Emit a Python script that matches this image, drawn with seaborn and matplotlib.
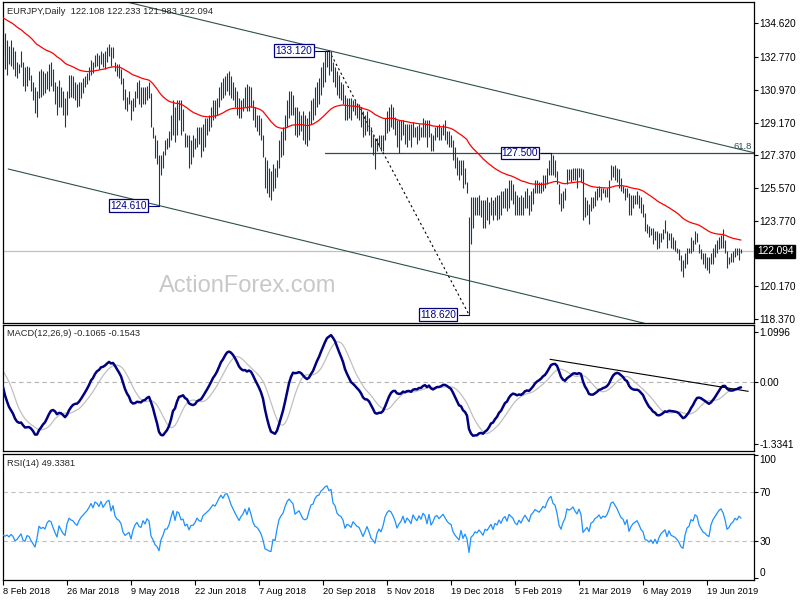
import numpy as np
import pandas as pd
import matplotlib
matplotlib.use('Agg')
import matplotlib.pyplot as plt
import matplotlib.transforms as mtransforms
import seaborn as sns

sns.set_style('white')
plt.rcParams['font.family'] = ['Liberation Sans', 'DejaVu Sans']

# ---- values ----
# closes before the first visible bar (Sep 2017 - 7 Feb 2018), only used so the
# EMA / MACD / RSI are warmed up at the left edge
warmup_close = [
    131.9, 132.3, 132.6, 133.1, 133.4, 133.8, 134.0, 133.6, 133.2, 132.9,
    132.6, 132.7, 133.0, 132.6, 132.4, 132.2, 132.1, 131.9, 132.3, 132.7,
    132.9, 132.8, 132.6, 132.4, 132.1, 132.5, 133.0, 133.5, 133.7, 133.9,
    134.2, 134.4, 132.3, 132.5, 132.7, 132.9, 132.6, 132.4, 132.2, 131.8,
    132.1, 132.3, 132.4, 131.9, 131.4, 131.6, 132.0, 132.3, 132.1, 132.5,
    132.5, 132.3, 132.7, 133.0, 132.6, 133.2, 133.8, 133.6, 133.9, 133.8,
    133.5, 133.1, 132.9, 133.3, 133.5, 133.7, 133.2, 133.8, 134.0, 134.3,
    134.5, 134.6, 134.8, 134.5, 134.7, 134.9, 135.2, 135.5, 135.6, 135.4,
    135.9, 136.2, 136.0, 135.5, 135.1, 134.8, 136.0, 136.5, 136.7, 136.2,
    135.8, 136.1, 136.3, 136.0, 135.7, 136.2, 136.4, 136.0, 135.6, 135.2,
    135.8, 136.6, 137.2, 136.1, 135.1, 134.5,
]

bar_high = [
    134.8, 134.1, 133.7, 133.4, 133.7, 133.3, 133.1, 132.5, 132.4, 133.1,
    132.5, 132.2, 132.3, 132.2, 131.8, 131.4, 131.1, 130.9, 132.0, 132.1,
    132.0, 131.9, 132.0, 132.4, 132.5, 132.1, 131.4, 131.2, 131.5, 131.1,
    130.9, 130.5, 130.9, 131.8, 131.8, 131.7, 131.4, 131.3, 131.4, 131.4,
    131.6, 131.7, 131.9, 132.2, 132.6, 132.5, 132.9, 133.0, 132.9, 133.1,
    133.0, 133.1, 133.3, 133.5, 133.3, 133.3, 132.5, 132.4, 132.4, 132.1,
    131.6, 131.0, 130.6, 130.9, 130.4, 130.5, 130.9, 131.4, 131.5, 131.1,
    131.1, 131.1, 131.2, 131.4, 130.8, 128.9, 128.5, 128.2, 127.4, 127.4,
    127.6, 128.2, 128.3, 128.7, 129.6, 130.4, 130.0, 130.4, 130.4, 130.4,
    129.9, 128.6, 128.5, 128.5, 128.2, 128.5, 128.3, 128.9, 128.9, 128.9,
    129.1, 129.4, 129.4, 129.6, 130.0, 130.4, 130.4, 130.5, 131.1, 131.4,
    131.6, 131.7, 131.9, 132.0, 131.7, 131.4, 131.1, 130.9, 130.5, 130.4,
    130.5, 131.1, 131.3, 131.2, 131.1, 130.4, 130.0, 129.6, 129.6, 129.4,
    128.5, 127.3, 127.1, 126.7, 126.5, 126.9, 126.7, 127.1, 128.2, 128.7,
    128.9, 129.6, 130.4, 130.9, 130.9, 130.7, 130.0, 130.0, 129.8, 129.6,
    129.8, 129.6, 129.4, 129.8, 130.4, 130.5, 131.1, 131.4, 131.6, 132.2,
    132.5, 133.1, 133.1, 133.12, 133.1, 132.5, 132.2, 132.0, 131.8, 131.4,
    131.3, 130.7, 130.5, 130.5, 130.5, 130.4, 130.4, 130.2, 130.2, 130.0,
    129.8, 129.6, 129.8, 129.4, 128.9, 128.5, 128.3, 128.3, 128.5, 128.5,
    128.5, 129.4, 129.8, 130.0, 130.2, 130.0, 129.5, 129.3, 129.3, 129.3,
    129.3, 129.1, 129.1, 129.1, 129.1, 129.2, 128.9, 129.0, 129.1, 128.9,
    129.4, 129.3, 129.3, 129.3, 128.6, 128.5, 128.9, 129.0, 129.1, 128.9,
    129.1, 129.3, 128.7, 128.7, 128.5, 128.2, 127.8, 127.3, 127.1, 127.1,
    127.1, 126.7, 125.9, 124.0, 125.1, 125.1, 125.1, 125.1, 125.2, 124.9,
    124.9, 124.9, 125.1, 124.8, 125.1, 124.9, 125.1, 125.2, 125.2, 125.4,
    125.4, 125.6, 125.6, 126.0, 126.0, 125.8, 125.4, 125.2, 125.1, 125.2,
    125.1, 125.4, 125.6, 125.2, 125.4, 125.6, 126.0, 126.0, 125.9, 125.9,
    126.3, 126.3, 126.7, 127.1, 127.5, 127.4, 127.1, 126.5, 125.8, 125.3,
    125.4, 125.6, 126.6, 126.6, 126.6, 126.7, 126.7, 126.7, 126.7, 126.7,
    126.6, 125.1, 124.9, 124.7, 125.1, 125.1, 125.4, 125.6, 125.7, 125.6,
    125.6, 125.5, 125.6, 126.0, 126.85, 126.8, 126.85, 126.7, 126.6, 126.1,
    125.7, 125.6, 125.6, 125.3, 125.2, 125.2, 125.2, 125.4, 125.2, 125.1,
    124.7, 124.2, 123.6, 123.5, 123.4, 123.4, 123.2, 123.2, 123.1, 123.1,
    123.3, 123.8, 123.2, 123.1, 123.1, 122.9, 122.7, 122.3, 122.2, 121.9,
    121.6, 122.0, 122.3, 122.3, 122.9, 122.7, 123.2, 123.1, 122.5, 122.2,
    122.0, 122.0, 121.8, 121.8, 122.0, 122.3, 122.5, 122.7, 122.9, 123.0,
    123.35, 122.7, 122.1, 121.8, 122.0, 122.1, 122.3, 122.3, 122.3, 122.233,
]

bar_low = [
    132.9, 132.1, 131.8, 132.4, 132.3, 132.1, 131.7, 131.6, 131.9, 132.2,
    131.2, 130.9, 131.2, 131.5, 130.9, 130.4, 129.7, 129.5, 130.5, 130.6,
    130.7, 130.8, 131.0, 130.9, 131.2, 130.9, 130.2, 129.6, 130.0, 130.0,
    129.6, 128.9, 129.6, 130.5, 130.6, 130.5, 130.4, 130.0, 130.1, 130.5,
    130.8, 131.1, 131.3, 131.5, 131.8, 131.9, 132.2, 132.3, 132.1, 132.4,
    132.2, 132.1, 132.5, 132.8, 132.3, 132.7, 132.0, 131.7, 131.6, 131.3,
    130.4, 129.9, 129.8, 130.2, 129.3, 129.8, 130.0, 130.5, 130.2, 130.0,
    130.2, 130.2, 130.4, 130.5, 128.9, 128.3, 127.2, 126.9, 124.61, 126.3,
    126.7, 127.4, 127.7, 127.8, 128.2, 128.5, 128.1, 128.5, 129.3, 128.5,
    128.7, 127.8, 127.8, 126.7, 126.9, 127.3, 127.7, 127.8, 128.0, 127.3,
    127.6, 127.8, 128.5, 128.7, 128.9, 129.3, 129.4, 129.6, 130.0, 130.4,
    130.5, 130.7, 130.9, 130.7, 130.5, 130.4, 130.0, 129.6, 129.4, 129.4,
    129.8, 130.0, 129.8, 129.8, 130.0, 129.3, 128.9, 128.7, 128.5, 128.2,
    127.3, 125.6, 125.3, 125.1, 124.9, 125.4, 125.6, 126.2, 126.7, 127.3,
    127.4, 128.2, 128.9, 129.4, 129.6, 129.6, 128.5, 128.4, 128.5, 128.7,
    128.2, 128.0, 127.9, 128.2, 129.1, 129.3, 129.6, 130.0, 130.2, 130.7,
    131.1, 131.4, 132.2, 131.8, 132.0, 131.4, 131.1, 130.7, 130.5, 130.4,
    130.2, 129.3, 129.3, 129.4, 129.3, 129.8, 129.6, 129.4, 129.3, 128.9,
    128.4, 128.5, 128.7, 128.5, 127.8, 127.4, 126.6, 127.6, 127.8, 127.6,
    127.6, 128.2, 128.6, 128.7, 128.9, 128.8, 128.5, 127.8, 127.5, 128.2,
    128.5, 128.0, 127.8, 128.2, 127.8, 128.4, 128.4, 128.0, 128.2, 128.4,
    128.4, 128.4, 127.8, 128.4, 127.6, 127.6, 128.2, 128.4, 128.2, 128.2,
    128.5, 128.2, 128.0, 127.8, 127.8, 127.1, 126.7, 126.3, 126.0, 126.3,
    125.6, 125.8, 125.3, 118.62, 122.5, 123.4, 124.1, 124.1, 124.1, 124.0,
    123.4, 123.4, 123.8, 123.6, 124.1, 123.8, 124.1, 123.8, 123.9, 124.1,
    124.5, 124.5, 124.3, 124.5, 124.9, 124.7, 124.1, 124.1, 124.1, 124.1,
    124.1, 124.5, 124.5, 124.1, 124.3, 124.7, 125.3, 125.3, 125.3, 125.3,
    125.4, 125.6, 125.8, 126.3, 126.3, 126.3, 126.2, 125.8, 124.7, 124.3,
    124.5, 124.9, 125.8, 126.0, 125.9, 126.0, 126.0, 125.6, 126.2, 125.9,
    123.8, 124.0, 124.1, 123.6, 124.3, 124.5, 124.6, 124.9, 125.1, 124.9,
    125.3, 125.1, 125.1, 124.8, 126.0, 126.2, 126.0, 125.9, 125.6, 125.4,
    125.3, 124.9, 125.1, 124.1, 124.1, 124.5, 124.7, 124.7, 124.5, 124.2,
    124.0, 123.2, 123.1, 122.9, 123.0, 122.5, 122.7, 122.2, 122.3, 122.6,
    122.8, 123.1, 122.3, 122.7, 122.3, 122.2, 122.1, 122.0, 121.6, 121.0,
    120.7, 121.2, 121.4, 122.0, 122.0, 122.1, 122.5, 122.6, 122.0, 121.7,
    121.4, 121.2, 121.1, 120.9, 121.4, 121.4, 121.8, 122.0, 122.2, 122.3,
    122.3, 122.0, 121.2, 121.4, 121.5, 121.5, 121.8, 121.9, 121.6, 121.983,
]

bar_close = [
    133.2, 133.0, 133.1, 132.8, 133.0, 132.7, 132.0, 132.1, 132.3, 132.5,
    131.6, 131.4, 131.8, 131.7, 131.1, 130.6, 130.0, 130.6, 131.6, 131.3,
    131.4, 131.2, 131.7, 131.9, 131.8, 131.2, 130.6, 130.0, 130.9, 130.4,
    129.9, 129.6, 130.6, 131.2, 131.0, 130.9, 130.6, 130.4, 130.8, 131.1,
    131.3, 131.5, 131.7, 132.0, 132.4, 132.1, 132.7, 132.6, 132.4, 132.9,
    132.5, 132.8, 133.1, 133.2, 132.5, 133.0, 132.2, 131.9, 131.8, 131.5,
    130.6, 130.2, 130.3, 130.4, 129.6, 130.2, 130.6, 130.8, 130.4, 130.3,
    130.8, 130.5, 130.9, 130.7, 129.0, 128.4, 127.5, 127.1, 126.1, 127.0,
    127.4, 128.0, 128.0, 128.4, 129.2, 130.0, 128.8, 130.0, 129.8, 128.9,
    129.0, 128.0, 128.2, 127.3, 127.8, 127.8, 128.1, 128.6, 128.3, 128.2,
    128.8, 129.0, 129.2, 129.4, 129.7, 130.0, 129.9, 130.3, 130.8, 131.2,
    131.0, 131.5, 131.6, 131.3, 130.9, 130.6, 130.3, 130.0, 129.7, 130.0,
    130.2, 130.6, 130.2, 130.8, 130.3, 129.6, 129.2, 129.1, 128.8, 128.4,
    127.6, 126.0, 125.8, 125.5, 125.4, 126.2, 126.0, 126.9, 127.8, 128.2,
    128.5, 129.3, 130.0, 130.4, 130.2, 130.0, 129.0, 129.2, 129.4, 129.0,
    128.6, 128.5, 128.6, 129.3, 130.0, 130.1, 130.8, 131.2, 131.3, 131.9,
    132.2, 132.6, 132.8, 132.5, 132.7, 131.8, 131.6, 131.0, 130.8, 130.7,
    130.4, 129.6, 129.9, 129.8, 129.6, 130.0, 129.8, 129.6, 129.5, 129.1,
    128.6, 128.9, 129.2, 128.7, 128.0, 127.7, 127.3, 127.9, 128.2, 127.9,
    128.3, 129.0, 129.4, 129.6, 129.5, 129.2, 128.8, 128.1, 128.4, 128.6,
    129.0, 128.4, 128.8, 128.6, 128.3, 129.0, 128.7, 128.5, 128.9, 128.6,
    129.1, 128.9, 128.2, 129.0, 127.9, 128.2, 128.7, 128.8, 128.5, 128.7,
    128.9, 128.6, 128.3, 128.1, 128.0, 127.3, 126.9, 126.6, 126.3, 126.9,
    125.9, 126.2, 125.5, 122.5, 124.0, 124.2, 124.6, 124.4, 124.7, 124.3,
    123.8, 124.4, 124.2, 124.5, 124.8, 124.1, 124.7, 124.5, 125.0, 124.6,
    125.1, 125.3, 124.8, 125.5, 125.3, 125.1, 124.6, 124.4, 124.8, 124.5,
    124.9, 125.2, 124.9, 124.6, 125.2, 125.4, 125.7, 125.6, 125.5, 125.7,
    126.0, 125.9, 126.4, 126.8, 127.0, 126.6, 126.5, 126.0, 125.0, 124.6,
    125.1, 125.4, 126.3, 126.2, 126.3, 126.5, 126.2, 126.0, 126.4, 126.0,
    124.2, 124.4, 124.6, 124.1, 124.8, 124.9, 125.2, 125.3, 125.5, 125.2,
    125.4, 125.3, 125.5, 125.9, 126.5, 126.6, 126.4, 126.2, 125.9, 125.6,
    125.5, 125.1, 125.4, 124.4, 124.7, 124.9, 125.0, 125.1, 124.8, 124.4,
    124.2, 123.4, 123.3, 123.1, 123.2, 122.8, 123.0, 122.5, 122.8, 123.0,
    123.1, 123.2, 122.6, 122.9, 122.5, 122.4, 122.3, 122.1, 121.8, 121.3,
    121.1, 121.7, 122.1, 122.2, 122.6, 122.5, 122.9, 122.8, 122.2, 121.9,
    121.6, 121.5, 121.3, 121.2, 121.8, 122.1, 122.3, 122.5, 122.7, 122.8,
    122.6, 122.2, 121.5, 121.6, 121.8, 121.9, 122.1, 122.0, 122.2, 122.094,
]

price_ticks = [118.37, 120.17, 123.77, 125.57, 127.37, 129.17, 130.97, 132.77, 134.62]
last_price = 122.094
date_ticks = [0, 32, 64, 96, 128, 160, 192, 224, 256, 288, 320, 352]
date_labels = ['8 Feb 2018', '26 Mar 2018', '9 May 2018', '22 Jun 2018', '7 Aug 2018',
               '20 Sep 2018', '5 Nov 2018', '19 Dec 2018', '5 Feb 2019', '21 Mar 2019',
               '6 May 2019', '19 Jun 2019']
macd_ticks = [-1.3341, 0.0, 1.0996]
macd_labels = ['-1.3341', '0.00', '1.0996']
rsi_ticks = [0, 30, 70, 100]

# swing labels
pivot_text = ['124.610', '133.120', '118.620', '127.500']
pivot_bar = [78, 163, 233, 274]
pivot_price = [124.61, 133.12, 118.62, 127.50]
pivot_box_bar = [62.6, 145.5, 217.6, 258.5]

# hand drawn lines (bar index, price)
upper_line_bar, upper_line_price = [60, 376], [135.84, 127.50]
lower_line_bar, lower_line_price = [2.6, 330], [126.62, 117.90]
drop_line_bar, drop_line_price = [163, 233], [133.12, 118.62]
level_bar, level_price = [161, 376], [127.5, 127.5]
macd_line_bar, macd_line_val = [273.5, 372.6], [0.50, -0.196]

# ---- indicators ----
if not (len(bar_high) == len(bar_low) == len(bar_close)):
    raise SystemExit(f'length mismatch {len(bar_high)} {len(bar_low)} {len(bar_close)}')
n_warm = len(warmup_close)
closes = pd.Series(warmup_close + bar_close)
ema55 = closes.ewm(span=55, adjust=False).mean()
macd = closes.ewm(span=12, adjust=False).mean() - closes.ewm(span=26, adjust=False).mean()
signal = macd.rolling(9).mean()
delta = closes.diff()
gain = delta.clip(lower=0).ewm(alpha=1 / 14, adjust=False).mean()
loss = (-delta.clip(upper=0)).ewm(alpha=1 / 14, adjust=False).mean()
rsi = 100 - 100 / (1 + gain / loss)

idx = np.arange(len(bar_close))
ema_vis = ema55.iloc[n_warm:].to_numpy()
macd_vis = macd.iloc[n_warm:].to_numpy()
sig_vis = signal.iloc[n_warm:].to_numpy()
rsi_vis = rsi.iloc[n_warm:].to_numpy()

# ---- figure ----
W, H = 800, 600
fig = plt.figure(figsize=(8, 6), dpi=100)
left, width = 2.5 / W, 751 / W
ax_p = fig.add_axes([left, 1 - 322.5 / H, width, 320.5 / H])
ax_m = fig.add_axes([left, 1 - 450.5 / H, width, 125.5 / H])
ax_r = fig.add_axes([left, 1 - 579.5 / H, width, 126 / H])

bar_color = '#1B3B4C'
line_color = '#2F4F4F'
navy = '#000080'
fs = 7.3
fs_small = 6.7

for ax in (ax_p, ax_m, ax_r):
    ax.set_xlim(-0.25, 375.25)
    for s in ax.spines.values():
        s.set_color('black')
        s.set_linewidth(0.9)
    ax.yaxis.tick_right()
    ax.tick_params(axis='y', direction='out', length=3, width=0.8, pad=1.5,
                   labelsize=fs, colors='black')
    ax.tick_params(axis='x', bottom=False, labelbottom=False)
    ax.set_xlabel('')
    ax.set_ylabel('')

# price panel
ax_p.set_ylim(118.19, 135.79)
ax_p.axhline(last_price, color='#C0C0C0', lw=0.9, zorder=0)
ax_p.vlines(idx, bar_low, bar_high, color=bar_color, lw=0.8, zorder=2)
sns.lineplot(x=idx, y=ema_vis, ax=ax_p, color='#FF0000', lw=0.9, zorder=3)
ax_p.plot(upper_line_bar, upper_line_price, color=line_color, lw=0.8, zorder=1)
ax_p.plot(lower_line_bar, lower_line_price, color=line_color, lw=0.8, zorder=1)
ax_p.plot(level_bar, level_price, color=line_color, lw=0.9, zorder=1)
ax_p.plot(drop_line_bar, drop_line_price, color='black', lw=0.8,
          ls=(0, (2, 2.5)), zorder=1)
ax_p.text(374.5, 127.62, '61.8', ha='right', va='bottom', fontsize=6.8, color=line_color)

for txt, b, p, bb in zip(pivot_text, pivot_bar, pivot_price, pivot_box_bar):
    ax_p.plot([bb + 10.5, b], [p, p], color=navy, lw=0.8, zorder=4)
    ax_p.text(bb, p, txt, ha='center', va='center', fontsize=fs, color=navy, zorder=5,
              bbox=dict(boxstyle='square,pad=0.12', fc='white', ec=navy, lw=0.9))

ax_p.set_yticks(price_ticks, labels=[f'{v:.3f}' for v in price_ticks])
trans = mtransforms.blended_transform_factory(ax_p.transAxes, ax_p.transData)
ax_p.text(1.0045, last_price, f'{last_price:.3f}', transform=trans, ha='left', va='center',
          fontsize=fs, color='white', clip_on=False,
          bbox=dict(boxstyle='square,pad=0.18', fc='black', ec='black'))

fig.text(7 / W, 1 - 12 / H, 'EURJPY,Daily  122.108 122.233 121.983 122.094',
         fontsize=fs_small, va='center', ha='left')
fig.text(248 / W, 1 - 286 / H, 'ActionForex.com', fontsize=17, color='#C8C8C8',
         ha='center', va='center')

# MACD panel
ax_m.set_ylim(-1.483, 1.246)
ax_m.axhline(0, color='#B4B4B4', lw=0.8, ls=(0, (4, 3)), zorder=0)
sns.lineplot(x=idx, y=sig_vis, ax=ax_m, color='#C0C0C0', lw=0.9, zorder=2)
sns.lineplot(x=idx, y=macd_vis, ax=ax_m, color='#000080', lw=1.8, zorder=3)
ax_m.plot(macd_line_bar, macd_line_val, color='black', lw=0.8, zorder=4)
ax_m.set_yticks(macd_ticks, labels=macd_labels)
fig.text(7 / W, 1 - 334 / H, 'MACD(12,26,9) -0.1065 -0.1543', fontsize=fs_small,
         va='center', ha='left')

# RSI panel
ax_r.set_ylim(-1.4, 101.4)
for lvl in (30, 70):
    ax_r.axhline(lvl, color='#C0C0C0', lw=0.8, ls=(0, (4, 3)), zorder=0)
sns.lineplot(x=idx, y=rsi_vis, ax=ax_r, color='#1E90FF', lw=0.9, zorder=3)
ax_r.set_yticks(rsi_ticks, labels=[str(v) for v in rsi_ticks])
for lab in ax_r.get_yticklabels():
    if lab.get_text() == '100':
        lab.set_verticalalignment('top')
    elif lab.get_text() == '0':
        lab.set_verticalalignment('bottom')
fig.text(7 / W, 1 - 463 / H, 'RSI(14) 49.3381', fontsize=fs_small, va='center', ha='left')

ax_r.set_xticks(date_ticks, labels=date_labels)
ax_r.tick_params(axis='x', bottom=True, labelbottom=True, direction='out', length=3.5,
                 width=0.8, pad=2, labelsize=fs_small, colors='black')
for lab in ax_r.get_xticklabels():
    lab.set_horizontalalignment('left')

fig.savefig('out.png', dpi=100, facecolor='white')
